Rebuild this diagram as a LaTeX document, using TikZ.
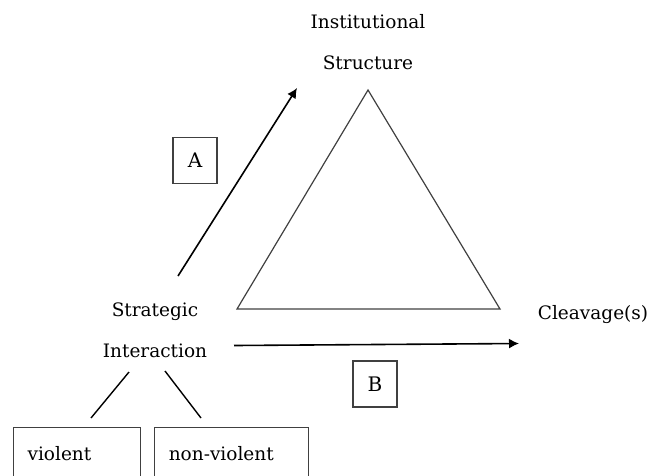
\documentclass[tikz,border=0pt]{standalone}
\usepackage{fontspec}
\setmainfont{DejaVu Serif}
\usepackage{tikz}
\usetikzlibrary{positioning, arrows.meta}

\begin{document}
\begin{tikzpicture}[x=1pt, y=-1pt, >={Latex[length=10pt, width=10pt]},
txt/.style={align=center, inner sep=0pt, font=\fontsize{18.5}{41}\selectfont},
letterbox/.style={rectangle, draw=black!75, line width=1.2pt, minimum width=44pt, minimum height=46pt, font=\fontsize{20}{22}\selectfont},
kindbox/.style={rectangle, draw=black!75, line width=1.2pt, anchor=north west, minimum height=52pt, inner xsep=14pt, align=left, font=\fontsize{18.5}{20}\selectfont},
]
\useasboundingbox (0,0) rectangle (652,475);
%Nodes
\node[txt]      (inst)      at (368,42)         {Institutional\\Structure};
\node[txt]      (strat)     at (155,330)        {Strategic\\Interaction};
\node[txt]      (cleav)     at (593,315)        {Cleavage(s)};
\node[letterbox]    (A)     at (195,160.5)      {A};
\node[letterbox]    (B)     at (375,384)        {B};
\node[kindbox, minimum width=127pt, text width=99pt]  (viol)   at (13,427)    {violent};
\node[kindbox, minimum width=154pt, text width=126pt]  (nonviol) [right=13pt of viol.north east, anchor=north west] {non-violent};

%Triangle
\coordinate (top) at (368,90);
\coordinate (bl)  at (237,309);
\coordinate (br)  at (500,309);
\draw[black!75, line width=1.2pt] (top) -- (bl) -- (br) -- cycle;

%Lines
\coordinate (a1) at (178,276);
\coordinate (a2) at (297,88);
\coordinate (b1) at (234,345.5);
\coordinate (b2) at (519,343.5);
\coordinate (l1) at (129,372);
\coordinate (l2) at (91,418);
\coordinate (r1) at (165,371);
\coordinate (r2) at (201,418);
\draw[->, line width=1.6pt] (a1) -- (a2);
\draw[->, line width=1.6pt] (b1) -- (b2);
\draw[line width=1.4pt] (l1) -- (l2);
\draw[line width=1.4pt] (r1) -- (r2);
\end{tikzpicture}
\end{document}
